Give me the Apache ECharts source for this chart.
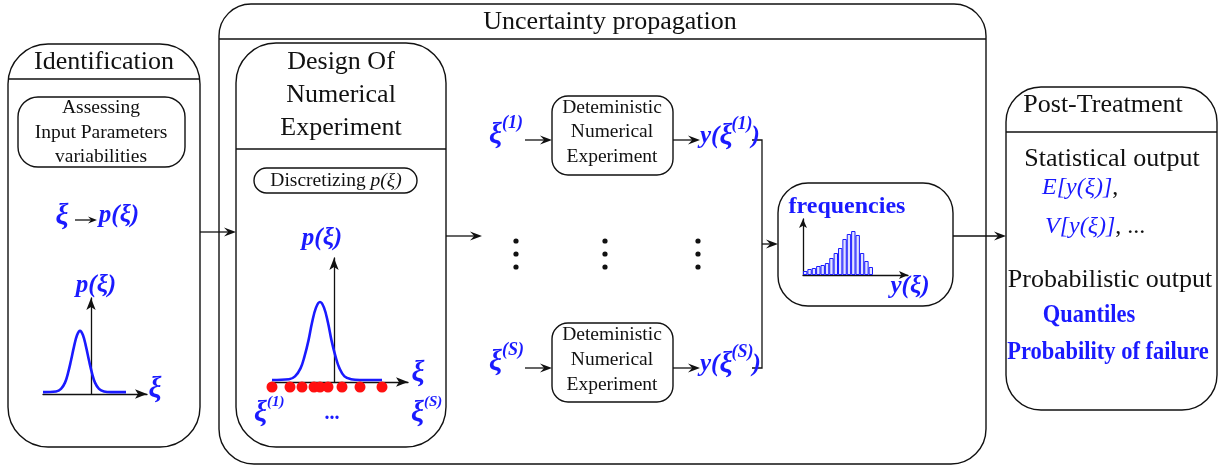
<!DOCTYPE html>
<html>
<head>
<meta charset="utf-8">
<script src="https://cdn.jsdelivr.net/npm/echarts@6/dist/echarts.min.js"></script>
<style>
  html, body { margin: 0; padding: 0; background: #fff; }
  #chart { width: 1226px; height: 465px; }
</style>
</head>
<body>
<div id="chart"></div>
<script>
  // density sketched in the Identification panel
  const LEFT_XI = [-4.8, -3.5, -3.0, -2.6, -2.3, -2.0, -1.7, -1.4, -1.1, -0.8, -0.5, -0.2, 0.1, 0.4, 0.8, 1.3, 2.0, 3.5];
  const LEFT_P = [0.03, 0.04, 0.08, 0.18, 0.33, 0.53, 0.75, 0.93, 1.0, 0.93, 0.75, 0.53, 0.33, 0.18, 0.08, 0.04, 0.03, 0.03];
  // density in the Design Of Numerical Experiment panel
  const MID_XI = [-6.2, -4.5, -3.9, -3.35, -2.95, -2.55, -2.2, -1.8, -1.4, -1.0, -0.6, -0.25, 0.15, 0.55, 1.05, 1.7, 2.6, 4.8];
  const MID_P = [0.025, 0.035, 0.07, 0.17, 0.32, 0.52, 0.74, 0.93, 1.0, 0.93, 0.74, 0.52, 0.32, 0.17, 0.07, 0.035, 0.025, 0.025];
  // sample points xi(1) ... xi(S)
  const SAMPLE_XI = [-6.2, -4.4, -3.2, -2.0, -1.4, -0.6, 0.8, 2.6, 4.8];
  // histogram of y(xi)
  const HIST_BIN = [0.5, 1.5, 2.5, 3.5, 4.5, 5.5, 6.5, 7.5, 8.5, 9.5, 10.5, 11.5, 12.5, 13.5, 14.5, 15.5];
  const HIST_FREQ = [4, 6, 7, 9, 10, 12, 17, 22, 27, 36, 41, 44, 40, 22, 14, 8];

  const INK = '#111';
  const BLUE = '#1a1aff';
  const SERIF = '"Liberation Serif", "Times New Roman", serif';

  function arrowAxis(grid, min, max, size) {
    return {
      gridIndex: grid, type: 'value', min: min, max: max,
      axisLine: { show: true, onZero: true, symbol: ['none', 'arrow'], symbolSize: size || [7, 12], lineStyle: { color: INK, width: 1.3 } },
      axisTick: { show: false }, axisLabel: { show: false }, splitLine: { show: false }
    };
  }
  function hiddenAxis(grid, min, max) {
    return { gridIndex: grid, type: 'value', min: min, max: max, show: false, splitLine: { show: false } };
  }

  function rect(x, y, w, h, r) {
    return { type: 'rect', silent: true, z: 1, shape: { x: x, y: y, width: w, height: h, r: r }, style: { fill: 'none', stroke: INK, lineWidth: 1.4 } };
  }
  function seg(x1, y1, x2, y2) {
    return { type: 'line', silent: true, z: 1, shape: { x1: x1, y1: y1, x2: x2, y2: y2 }, style: { stroke: INK, lineWidth: 1.3 } };
  }
  function arrowH(x1, y, x2, head) {
    const L = head ? head[0] : 12, W = head ? head[1] : 4.5;
    return [
      seg(x1, y, x2 - L * 0.5, y),
      { type: 'polygon', silent: true, z: 2, shape: { points: [[x2, y], [x2 - L, y - W], [x2 - L * 0.65, y], [x2 - L, y + W]] }, style: { fill: INK } }
    ];
  }
  function txt(x, y, text, font, fill, align, rich, sx) {
    const a = align || 'center';
    const style = { text: text, font: font, fill: fill || INK, align: a, verticalAlign: 'middle', textAlign: a, textVerticalAlign: 'middle' };
    if (rich) style.rich = rich;
    const el = { type: 'text', silent: true, z: 5, x: x, y: y, style: style };
    if (sx) el.scaleX = sx;
    return el;
  }
  const F = (s, w) => (w || '') + ' ' + s + 'px ' + SERIF;
  const BI = s => F(s, 'italic bold');

  // lays pieces out left to right, each with its own font and vertical shift
  const measure = document.createElement('canvas').getContext('2d');
  function pieces(x, y, parts, fill) {
    let cx = x;
    return parts.map(p => {
      const el = txt(cx, y + (p[2] || 0), p[0], p[1], fill, 'left');
      measure.font = p[1];
      cx += measure.measureText(p[0]).width + (p[3] || 0);
      return el;
    });
  }

  const graphics = [
    // boxes
    rect(8, 44, 192, 403, 40),
    rect(219, 4, 767, 460, [32, 32, 35, 35]),
    rect(236, 43, 210, 404, 40),
    rect(18, 97, 167, 70, 20),
    rect(254, 168, 163, 25, 12.5),
    rect(552, 96, 121, 79, 16),
    rect(552, 323, 121, 79, 16),
    rect(778, 183, 175, 123, 30),
    rect(1006, 87, 211, 323, 35),
    seg(219, 39, 986, 39),
    seg(8, 79, 200, 79),
    seg(236, 149, 446, 149),
    seg(1006, 132, 1217, 132),
    { type: 'polyline', silent: true, z: 1, shape: { points: [[752, 140], [762, 140], [762, 368], [752, 368]] }, style: { stroke: INK, lineWidth: 1.3, fill: 'none' } }
  ].concat(
    arrowH(200, 232, 236), arrowH(446, 236, 482),
    arrowH(525, 140, 552), arrowH(673, 140, 700),
    arrowH(525, 368, 552), arrowH(673, 368, 700),
    arrowH(762, 244, 778), arrowH(953, 236, 1006),
    arrowH(75, 220, 97, [9, 3.5])
  );

  // vertical ellipses between the two experiment rows
  [516, 605, 698].forEach(cx => [241, 254, 267].forEach(cy => {
    graphics.push({ type: 'circle', silent: true, z: 2, shape: { cx: cx, cy: cy, r: 2.6 }, style: { fill: INK } });
  }));

  graphics.push(
    txt(610, 22, 'Uncertainty propagation', F(26)),
    txt(104, 62, 'Identification', F(26)),
    txt(101, 108, 'Assessing', F(19.5)),
    txt(101, 133, 'Input Parameters', F(19.5)),
    txt(101, 157, 'variabilities', F(19.5)),
    txt(62, 217, 'ξ', BI(29), BLUE),
    txt(119, 216, 'p(ξ)', BI(25), BLUE),
    txt(96, 286, 'p(ξ)', BI(25), BLUE),
    txt(155, 390, 'ξ', BI(29), BLUE),

    txt(341, 62, 'Design Of', F(26)),
    txt(341, 95, 'Numerical', F(26)),
    txt(341, 128, 'Experiment', F(26)),
    txt(336, 181, 'Discretizing {i|p(ξ)}', F(19.5), INK, 'center', { i: { font: F(19.5, 'italic'), fill: INK } }),
    txt(322, 239, 'p(ξ)', BI(25), BLUE),
    txt(418, 374, 'ξ', BI(29), BLUE),
    txt(332, 414, '...', F(20, 'bold'), BLUE),

    txt(612, 108, 'Deteministic', F(19.5)),
    txt(612, 132, 'Numerical', F(19.5)),
    txt(612, 157, 'Experiment', F(19.5)),
    txt(612, 335, 'Deteministic', F(19.5)),
    txt(612, 360, 'Numerical', F(19.5)),
    txt(612, 385, 'Experiment', F(19.5)),

    txt(847, 207, 'frequencies', F(24, 'bold'), BLUE),
    txt(910, 287, 'y(ξ)', BI(25), BLUE),

    txt(1103, 105, 'Post-Treatment', F(26)),
    txt(1112, 159, 'Statistical output', F(26)),
    txt(1042, 188, '{b|E[y(ξ)]}{k|,}', F(24, 'italic'), BLUE, 'left', { b: { font: F(24, 'italic'), fill: BLUE }, k: { font: F(24), fill: INK } }),
    txt(1045, 227, '{b|V[y(ξ)]}{k|, ...}', F(24, 'italic'), BLUE, 'left', { b: { font: F(24, 'italic'), fill: BLUE }, k: { font: F(24), fill: INK } }),
    txt(1110, 280, 'Probabilistic output', F(26)),
    txt(1089, 315, 'Quantiles', F(26, 'bold'), BLUE, 'center', null, 0.865),
    txt(1108, 352, 'Probability of failure', F(26, 'bold'), BLUE, 'center', null, 0.865)
  );

  // labels with superscripts
  [].push.apply(graphics, [].concat(
    pieces(254, 414, [['ξ', BI(29)], ['(1)', BI(15), -12]], BLUE),
    pieces(411, 414, [['ξ', BI(29)], ['(S)', BI(15), -12]], BLUE),
    pieces(489, 136, [['ξ', BI(29)], ['(1)', BI(18), -13]], BLUE),
    pieces(489, 363, [['ξ', BI(29)], ['(S)', BI(18), -13]], BLUE),
    pieces(700, 137, [['y(', BI(25)], ['ξ', BI(29), 0, -1], ['(1)', BI(18), -13, -1], [')', BI(25)]], BLUE),
    pieces(700, 365, [['y(', BI(25)], ['ξ', BI(29), 0, -1], ['(S)', BI(18), -13, -1], [')', BI(25)]], BLUE)
  ));

  const myChart = echarts.init(document.getElementById('chart'));
  myChart.setOption({
    animation: false,
    backgroundColor: '#fff',
    grid: [
      { left: 43, top: 298, width: 104, height: 96 },
      { left: 272, top: 258, width: 136, height: 124 },
      { left: 272, top: 377, width: 136, height: 20 },
      { left: 803, top: 219, width: 105, height: 56 }
    ],
    xAxis: [
      arrowAxis(0, -4.8, 5.6),
      arrowAxis(1, -6.2, 7.4),
      hiddenAxis(2, -6.2, 7.4),
      arrowAxis(3, 0, 24, [6, 9])
    ],
    yAxis: [
      arrowAxis(0, 0, 1.52),
      arrowAxis(1, 0, 1.55),
      hiddenAxis(2, -1, 1),
      arrowAxis(3, 0, 56, [6, 9])
    ],
    series: [
      {
        type: 'line', xAxisIndex: 0, yAxisIndex: 0, silent: true,
        data: LEFT_XI.map((x, i) => [x, LEFT_P[i]]),
        smooth: 0.4, showSymbol: false, lineStyle: { color: BLUE, width: 2.6 }
      },
      {
        type: 'line', xAxisIndex: 1, yAxisIndex: 1, silent: true,
        data: MID_XI.map((x, i) => [x, MID_P[i]]),
        smooth: 0.4, showSymbol: false, lineStyle: { color: BLUE, width: 2.6 }
      },
      {
        type: 'scatter', xAxisIndex: 2, yAxisIndex: 2, silent: true, z: 4,
        data: SAMPLE_XI.map(x => [x, 0]),
        symbolSize: 11, itemStyle: { color: '#ff1010', opacity: 1 }
      },
      {
        type: 'bar', xAxisIndex: 3, yAxisIndex: 3, silent: true,
        data: HIST_BIN.map((b, i) => [b, HIST_FREQ[i]]),
        barWidth: 4.4,
        itemStyle: { color: '#e2e4ff', borderColor: BLUE, borderWidth: 1 }
      }
    ],
    graphic: graphics
  });
</script>
</body>
</html>
